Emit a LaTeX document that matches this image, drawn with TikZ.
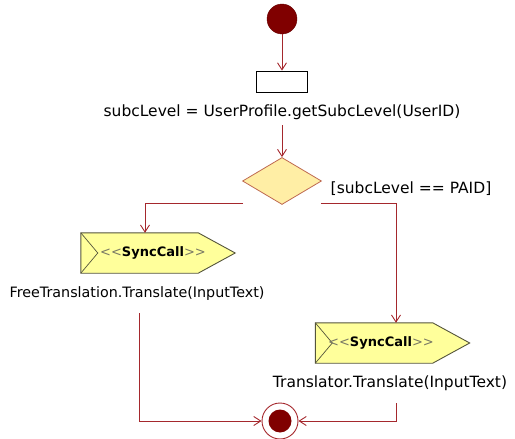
\documentclass[tikz,border=0pt]{standalone}
\usepackage{fontspec}
\setmainfont{DejaVu Sans}
\usetikzlibrary{arrows.meta,shapes.geometric,calc}
\definecolor{linecol}{RGB}{165,40,45}
\definecolor{maroonfill}{RGB}{128,0,0}
\definecolor{decfill}{RGB}{255,238,165}
\definecolor{decline}{RGB}{190,105,80}
\definecolor{syncfill}{RGB}{255,255,155}
\definecolor{syncline}{RGB}{85,85,60}
\definecolor{guill}{RGB}{120,120,100}
\newcommand{\synclabel}{\textcolor{guill}{{<}{<}}\textbf{SyncCall}\textcolor{guill}{{>}{>}}}
\begin{document}
\begin{tikzpicture}[x=1pt,y=-1pt,
  flow/.style={draw=linecol,line width=1pt,-{Straight Barb[length=7pt,width=9pt,line width=0.9pt]}},
  lbl/.style={font=\fontsize{15.5}{18}\selectfont,inner sep=0pt,anchor=base},
  syncbox/.style={minimum width=154pt,minimum height=40pt,inner sep=0pt},
  synctext/.style={font=\fontsize{13}{15}\selectfont,inner sep=0pt}
]
\useasboundingbox (0,0) rectangle (515,439);

% start
\node[circle,fill=maroonfill,draw=maroonfill!80!black,minimum size=30pt,inner sep=0pt] (start) at (282,19) {};
% action
\node[draw=black,line width=0.8pt,fill=white,minimum width=51pt,minimum height=21pt,inner sep=0pt] (act) at (282,81.5) {};
\node[lbl] (actlbl) at (282,116) {subcLevel = UserProfile.getSubcLevel(UserID)};
% decision
\node[diamond,draw=decline,fill=decfill,line width=0.8pt,minimum width=79pt,minimum height=47pt,inner sep=0pt] (dec) at (282,181) {};
\node[lbl] (guard) at (411,193) {[subcLevel == PAID]};

% sync boxes
\node[syncbox] (b1) at (158,253) {};
\node[syncbox] (b2) at (392.5,343) {};
\foreach \b in {b1,b2}{
  \draw[syncline,line width=0.9pt,fill=syncfill]
    (\b.north west) -- ($(\b.north east)+(-37,0)$) -- (\b.east)
    -- ($(\b.south east)+(-37,0)$) -- (\b.south west) -- cycle;
  \draw[syncline,line width=0.7pt] (\b.north west) -- ($(\b.west)+(17,0)$) -- (\b.south west);
}
\node[synctext] (t1) at (153,253) {\synclabel};
\node[synctext] (t2) at (381,343) {\synclabel};

\node[lbl,font=\fontsize{14.3}{17}\selectfont] (l1) at (137,297) {FreeTranslation.Translate(InputText)};
\node[lbl] (l2) at (390,387) {Translator.Translate(InputText)};

% end
\node[circle,draw=linecol,line width=0.9pt,fill=white,minimum size=36pt,inner sep=0pt] (end) at (280,421) {};
\node[circle,fill=maroonfill,minimum size=23pt,inner sep=0pt] (endin) at (end.center) {};

% connectors
\draw[flow] (start) -- (act);
\draw[flow] (act.south |- actlbl.south) ++(0,6) coordinate (a0) -- (a0 |- dec.north);
\coordinate (dl) at ($(dec.west)+(1,22)$);
\coordinate (dr) at ($(dec.east)+(-1,22)$);
\draw[flow] (dl) -| (b1.north -| 145,0);
\draw[flow] (dr) -| (b2.north -| 396,0);
\coordinate (ls) at (139,313);
\coordinate (rs) at (396,403);
\draw[flow] (ls) |- (end.west);
\draw[flow] (rs) |- (end.east);
\end{tikzpicture}
\end{document}
